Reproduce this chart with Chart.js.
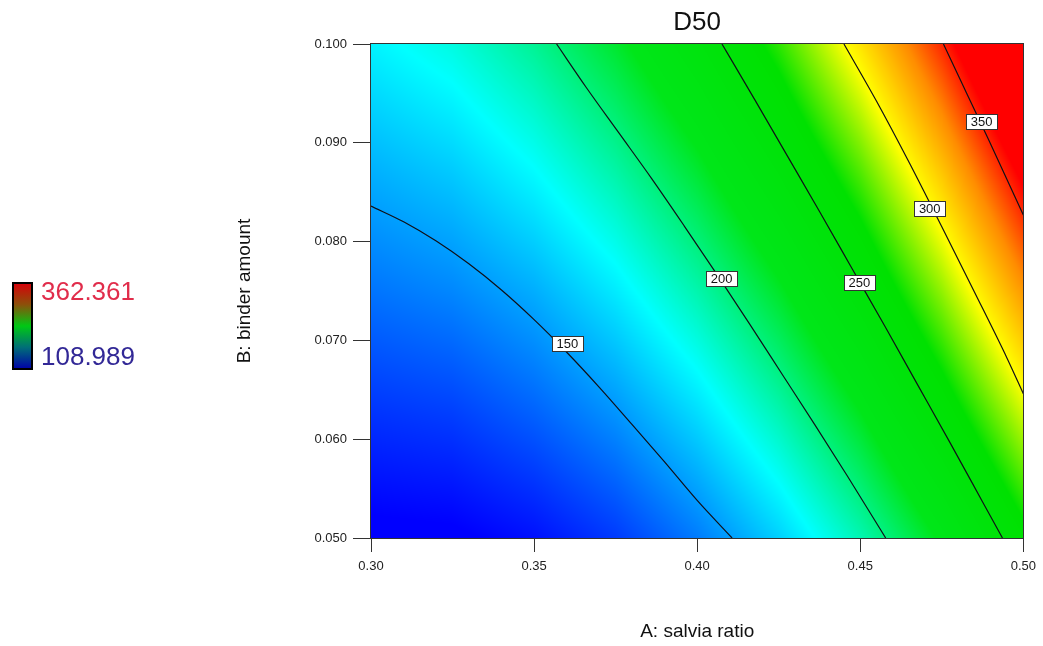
<!DOCTYPE html>
<html lang="en">
<head>
    <meta charset="UTF-8">
    <title>D50 contour</title>
    <script src="https://cdn.jsdelivr.net/npm/chart.js"></script>
    <style>
        body { margin: 0; background: #fff; }
        canvas { display: block; }
    </style>
</head>
<body>
    <canvas id="contourChart" width="1043" height="646"></canvas>

    <script>
        // axes
        const xTicks = [0.30, 0.35, 0.40, 0.45, 0.50];
        const yTicks = [0.050, 0.060, 0.070, 0.080, 0.090, 0.100];

        const gridA = [0.300, 0.325, 0.350, 0.375, 0.400, 0.425, 0.450, 0.475, 0.500];
        const gridB = [0.050, 0.0625, 0.075, 0.0875, 0.100];
        const d50At050  = [106, 107, 113, 124, 141, 163, 190, 222, 260];
        const d50At0625 = [122, 125, 134, 147, 166, 190, 219, 254, 293];
        const d50At075  = [139, 144, 154, 170, 191, 217, 248, 285, 327];
        const d50At0875 = [155, 162, 175, 193, 216, 244, 277, 316, 360];
        const d50At100  = [172, 181, 196, 216, 241, 271, 307, 348, 394];
        const colorMin = 108.989;
        const colorMax = 362.361;

        // contour lines [A, B]
        const c150 = [[0.300, 0.0836], [0.310, 0.0820], [0.320, 0.08005], [0.330, 0.07775], [0.340, 0.0751], [0.350, 0.0721],
                      [0.360, 0.0688], [0.370, 0.06525], [0.380, 0.0615], [0.390, 0.0577], [0.400, 0.0538], [0.4107, 0.0500]];
        const c200 = [[0.3569, 0.1000], [0.3660, 0.0956], [0.3760, 0.0910], [0.3860, 0.0864], [0.3960, 0.0816], [0.4060, 0.0767],
                      [0.4160, 0.0717], [0.4260, 0.0666], [0.4360, 0.0615], [0.4460, 0.0563], [0.4578, 0.0500]];
        const c250 = [[0.4076, 0.1000], [0.4176, 0.0944], [0.4276, 0.0887], [0.4376, 0.0830], [0.4476, 0.0772], [0.4576, 0.0714],
                      [0.4676, 0.0655], [0.4776, 0.0596], [0.4876, 0.0536], [0.4936, 0.0500]];
        const c300 = [[0.4450, 0.1000], [0.4550, 0.0942], [0.4650, 0.0880], [0.4750, 0.0815], [0.4850, 0.0749], [0.4950, 0.0682],
                      [0.5000, 0.0646]];
        const c350 = [[0.4755, 0.1000], [0.4825, 0.0951], [0.4895, 0.0902], [0.4965, 0.0852], [0.5000, 0.0827]];

        const contourLevels = [150, 200, 250, 300, 350];
        const labelAt = [[0.3602, 0.0697], [0.4075, 0.0763], [0.4497, 0.0759], [0.4713, 0.0834], [0.4872, 0.0922]];

        const FONT = "'Liberation Sans', Arial, sans-serif";
        const gridRows = [d50At050, d50At0625, d50At075, d50At0875, d50At100];

        // blue -> cyan -> green -> yellow -> red
        const colorStops = [
            [109, [0, 0, 255]],
            [175, [0, 255, 255]],
            [220, [0, 230, 25]],
            [265, [0, 225, 0]],
            [300, [255, 255, 0]],
            [330, [255, 140, 0]],
            [355, [255, 0, 0]]
        ];

        function colorFor(v) {
            if (v <= colorStops[0][0]) return colorStops[0][1];
            for (let i = 1; i < colorStops.length; i++) {
                if (v <= colorStops[i][0]) {
                    const [v0, c0] = colorStops[i - 1];
                    const [v1, c1] = colorStops[i];
                    const t = (v - v0) / (v1 - v0);
                    return [c0[0] + (c1[0] - c0[0]) * t, c0[1] + (c1[1] - c0[1]) * t, c0[2] + (c1[2] - c0[2]) * t];
                }
            }
            return colorStops[colorStops.length - 1][1];
        }

        function findCell(arr, v) {
            let i = 0;
            while (i < arr.length - 2 && v > arr[i + 1]) i++;
            let t = (v - arr[i]) / (arr[i + 1] - arr[i]);
            return [i, Math.max(0, Math.min(1, t))];
        }

        function d50At(a, b) {
            const [i, tx] = findCell(gridA, a);
            const [j, ty] = findCell(gridB, b);
            const lo = gridRows[j][i] * (1 - tx) + gridRows[j][i + 1] * tx;
            const hi = gridRows[j + 1][i] * (1 - tx) + gridRows[j + 1][i + 1] * tx;
            return lo * (1 - ty) + hi * ty;
        }

        const fieldPlugin = {
            id: 'field',
            beforeDatasetsDraw(chart) {
                const { ctx, chartArea, scales } = chart;
                const left = Math.round(chartArea.left), top = Math.round(chartArea.top);
                const w = Math.round(chartArea.right) - left, h = Math.round(chartArea.bottom) - top;
                const img = ctx.createImageData(w, h);
                for (let py = 0; py < h; py++) {
                    const b = scales.y.getValueForPixel(top + py + 0.5);
                    for (let px = 0; px < w; px++) {
                        const a = scales.x.getValueForPixel(left + px + 0.5);
                        const c = colorFor(d50At(a, b));
                        const k = (py * w + px) * 4;
                        img.data[k] = c[0];
                        img.data[k + 1] = c[1];
                        img.data[k + 2] = c[2];
                        img.data[k + 3] = 255;
                    }
                }
                ctx.putImageData(img, left, top);
            },
            afterDatasetsDraw(chart) {
                const { ctx, chartArea, scales } = chart;
                ctx.save();

                // contour labels
                ctx.font = '13px ' + FONT;
                ctx.textAlign = 'center';
                ctx.textBaseline = 'middle';
                contourLevels.forEach((lvl, i) => {
                    const px = scales.x.getPixelForValue(labelAt[i][0]);
                    const py = scales.y.getPixelForValue(labelAt[i][1]);
                    const tw = ctx.measureText(String(lvl)).width + 9;
                    ctx.fillStyle = '#fff';
                    ctx.fillRect(Math.round(px - tw / 2) + 0.5, Math.round(py - 7.5) + 0.5, Math.round(tw), 15);
                    ctx.strokeStyle = '#333';
                    ctx.lineWidth = 1;
                    ctx.strokeRect(Math.round(px - tw / 2) + 0.5, Math.round(py - 7.5) + 0.5, Math.round(tw), 15);
                    ctx.fillStyle = '#111';
                    ctx.fillText(String(lvl), px, py + 1);
                });

                // frame
                ctx.strokeStyle = '#333';
                ctx.strokeRect(Math.round(chartArea.left) - 0.5, Math.round(chartArea.top) - 0.5,
                    Math.round(chartArea.right - chartArea.left) + 1, Math.round(chartArea.bottom - chartArea.top) + 1);

                // title and axis titles
                const cx = (chartArea.left + chartArea.right) / 2;
                const cy = (chartArea.top + chartArea.bottom) / 2;
                ctx.fillStyle = '#111';
                ctx.font = '26px ' + FONT;
                ctx.fillText('D50', cx, 23);
                ctx.font = '19px ' + FONT;
                ctx.fillText('A: salvia ratio', cx, 632);
                ctx.save();
                ctx.translate(245, cy);
                ctx.rotate(-Math.PI / 2);
                ctx.fillText('B: binder amount', 0, 0);
                ctx.restore();

                // colour key on the left
                const g = ctx.createLinearGradient(0, 283, 0, 369);
                g.addColorStop(0, 'rgb(215,0,10)');
                g.addColorStop(0.25, 'rgb(140,80,10)');
                g.addColorStop(0.5, 'rgb(0,200,20)');
                g.addColorStop(0.75, 'rgb(0,110,120)');
                g.addColorStop(1, 'rgb(0,0,170)');
                ctx.fillStyle = g;
                ctx.fillRect(13, 283, 19, 86);
                ctx.strokeStyle = '#000';
                ctx.lineWidth = 2;
                ctx.strokeRect(13, 283, 19, 86);
                ctx.font = '26px ' + FONT;
                ctx.textAlign = 'left';
                ctx.fillStyle = 'rgb(225,45,75)';
                ctx.fillText(colorMax.toFixed(3), 41, 293);
                ctx.fillStyle = 'rgb(50,40,150)';
                ctx.fillText(colorMin.toFixed(3), 41, 358);

                ctx.restore();
            }
        };

        function contourSet(points) {
            return {
                data: points.map(p => ({ x: p[0], y: p[1] })),
                showLine: true,
                borderColor: '#101018',
                borderWidth: 1.2,
                pointRadius: 0,
                cubicInterpolationMode: 'monotone'
            };
        }

        window.onload = function () {
            const ctx = document.getElementById('contourChart').getContext('2d');
            new Chart(ctx, {
                type: 'scatter',
                data: { datasets: [c150, c200, c250, c300, c350].map(contourSet) },
                options: {
                    responsive: false,
                    animation: false,
                    devicePixelRatio: 1,
                    layout: { padding: { top: 44, right: 18, left: 0, bottom: 0 } },
                    plugins: { legend: { display: false }, tooltip: { enabled: false } },
                    scales: {
                        x: {
                            type: 'linear',
                            min: 0.30,
                            max: 0.50,
                            afterBuildTicks: s => { s.ticks = xTicks.map(v => ({ value: v })); },
                            afterFit: s => { s.height = 108; },
                            ticks: { callback: v => v.toFixed(2), color: '#222', font: { family: FONT, size: 13 }, padding: 7, maxRotation: 0 },
                            grid: { drawOnChartArea: false, tickLength: 14, color: '#333' },
                            border: { color: '#333' }
                        },
                        y: {
                            type: 'linear',
                            min: 0.05,
                            max: 0.10,
                            afterBuildTicks: s => { s.ticks = yTicks.map(v => ({ value: v })); },
                            afterFit: s => { s.width = 371; },
                            ticks: { callback: v => v.toFixed(3), color: '#222', font: { family: FONT, size: 13 }, padding: 6 },
                            grid: { drawOnChartArea: false, tickLength: 18, color: '#333' },
                            border: { color: '#333' }
                        }
                    }
                },
                plugins: [fieldPlugin]
            });
        };
    </script>
</body>
</html>
